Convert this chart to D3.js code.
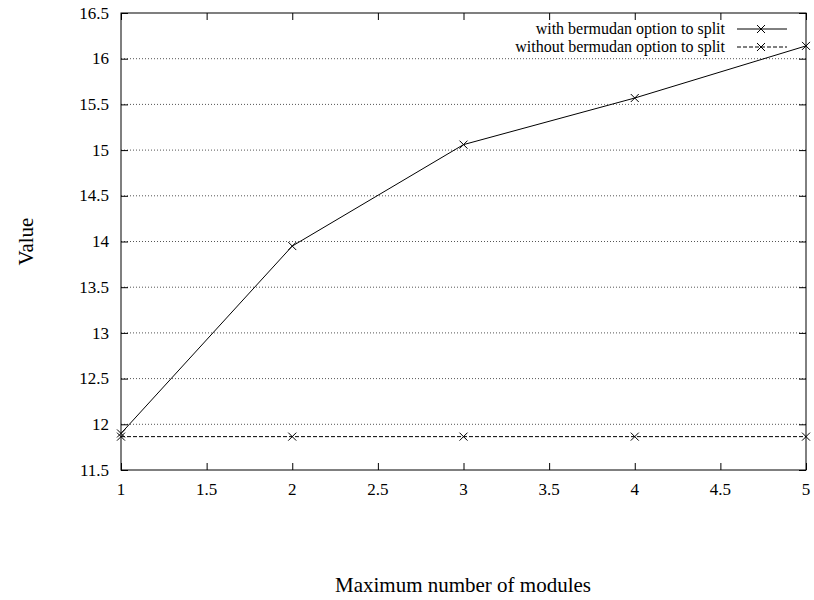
<!DOCTYPE html>
<html>
<head>
<meta charset="utf-8">
<script src="https://cdn.jsdelivr.net/npm/d3@7.9.0/dist/d3.min.js"></script>
<style>
  body { margin: 0; background: #fff; }
  text { font-family: 'Liberation Serif', 'Times New Roman', Times, 'DejaVu Serif', serif; }
</style>
</head>
<body>
<svg id="chart" width="814" height="600"></svg>
<script>
const modules = [1, 2, 3, 4, 5];
const withSplit = [11.9, 13.95, 15.06, 15.57, 16.14];
const withoutSplit = [11.865, 11.865, 11.865, 11.865, 11.865];
const seriesNames = ['with bermudan option to split', 'without bermudan option to split'];
const xTicks = [1, 1.5, 2, 2.5, 3, 3.5, 4, 4.5, 5];
const yTicks = [11.5, 12, 12.5, 13, 13.5, 14, 14.5, 15, 15.5, 16, 16.5];

const serif = "'Liberation Serif', 'Times New Roman', Times, 'DejaVu Serif', serif";
const svg = d3.select('#chart');
const plotLeft = 121, plotRight = 806, plotTop = 13, plotBottom = 470;

let x = d3.scaleLinear().domain([1, 5]).range([plotLeft, plotRight]);
let y = d3.scaleLinear().domain([11.5, 16.5]).range([plotBottom, plotTop]);

// dotted grid lines
svg.append('g')
  .selectAll('line')
  .data(yTicks.slice(1, -1))
  .join('line')
  .attr('x1', plotLeft).attr('x2', plotRight)
  .attr('y1', d => y(d)).attr('y2', d => y(d))
  .attr('stroke', '#555')
  .attr('stroke-width', 1)
  .attr('stroke-dasharray', '1,2');

// inward ticks on all four sides
const tickLen = 7;
const fmt = d => String(d);
svg.append('g').attr('transform', `translate(${plotLeft},0)`)
  .call(d3.axisRight(y).tickValues(yTicks).tickSize(tickLen).tickFormat(''))
  .call(g => g.select('.domain').remove());
svg.append('g').attr('transform', `translate(${plotRight},0)`)
  .call(d3.axisLeft(y).tickValues(yTicks).tickSize(tickLen).tickFormat(''))
  .call(g => g.select('.domain').remove());
svg.append('g').attr('transform', `translate(0,${plotBottom})`)
  .call(d3.axisTop(x).tickValues(xTicks).tickSize(tickLen).tickFormat(''))
  .call(g => g.select('.domain').remove());
svg.append('g').attr('transform', `translate(0,${plotTop})`)
  .call(d3.axisBottom(x).tickValues(xTicks).tickSize(tickLen).tickFormat(''))
  .call(g => g.select('.domain').remove());
svg.selectAll('.tick line').attr('stroke', '#000');

// tick labels
svg.append('g')
  .selectAll('text')
  .data(yTicks)
  .join('text')
  .attr('x', plotLeft - 12)
  .attr('y', d => y(d))
  .attr('dy', '0.33em')
  .attr('text-anchor', 'end')
  .attr('font-family', serif)
  .attr('font-size', 17)
  .text(fmt);
svg.append('g')
  .selectAll('text')
  .data(xTicks)
  .join('text')
  .attr('x', d => x(d))
  .attr('y', plotBottom + 25)
  .attr('text-anchor', 'middle')
  .attr('font-family', serif)
  .attr('font-size', 17)
  .text(fmt);

// border
svg.append('rect')
  .attr('x', plotLeft).attr('y', plotTop)
  .attr('width', plotRight - plotLeft).attr('height', plotBottom - plotTop)
  .attr('fill', 'none').attr('stroke', '#000').attr('stroke-width', 1);

// axis titles
svg.append('text')
  .attr('x', 463)
  .attr('y', 592)
  .attr('text-anchor', 'middle')
  .attr('font-family', serif)
  .attr('font-size', 21)
  .text('Maximum number of modules');
svg.append('text')
  .attr('transform', `translate(33,${(plotTop + plotBottom) / 2}) rotate(-90)`)
  .attr('text-anchor', 'middle')
  .attr('font-family', serif)
  .attr('font-size', 21)
  .text('Value');

// series
const series = [
  { name: seriesNames[0], values: withSplit, dash: null },
  { name: seriesNames[1], values: withoutSplit, dash: '4,2' }
];
let line = d3.line().x((d, i) => x(modules[i])).y(d => y(d));

function cross(g, cx, cy) {
  const s = 4;
  g.append('path')
    .attr('d', `M${cx - s},${cy - s}L${cx + s},${cy + s}M${cx - s},${cy + s}L${cx + s},${cy - s}`)
    .attr('stroke', '#000').attr('stroke-width', 1).attr('fill', 'none');
}

series.forEach((s, idx) => {
  const g = svg.append('g');
  g.append('path')
    .attr('d', line(s.values))
    .attr('fill', 'none')
    .attr('stroke', '#000')
    .attr('stroke-width', 1)
    .attr('stroke-dasharray', s.dash);
  s.values.forEach((v, i) => cross(g, x(modules[i]), y(v)));

  // legend entry
  const ly = 29 + idx * 18;
  g.append('text')
    .attr('x', 725).attr('y', ly)
    .attr('dy', '0.33em')
    .attr('text-anchor', 'end')
    .attr('font-family', serif)
    .attr('font-size', 16)
    .text(s.name);
  g.append('line')
    .attr('x1', 737).attr('x2', 787)
    .attr('y1', ly).attr('y2', ly)
    .attr('stroke', '#000')
    .attr('stroke-dasharray', s.dash);
  cross(g, 761, ly);
});
</script>
</body>
</html>
